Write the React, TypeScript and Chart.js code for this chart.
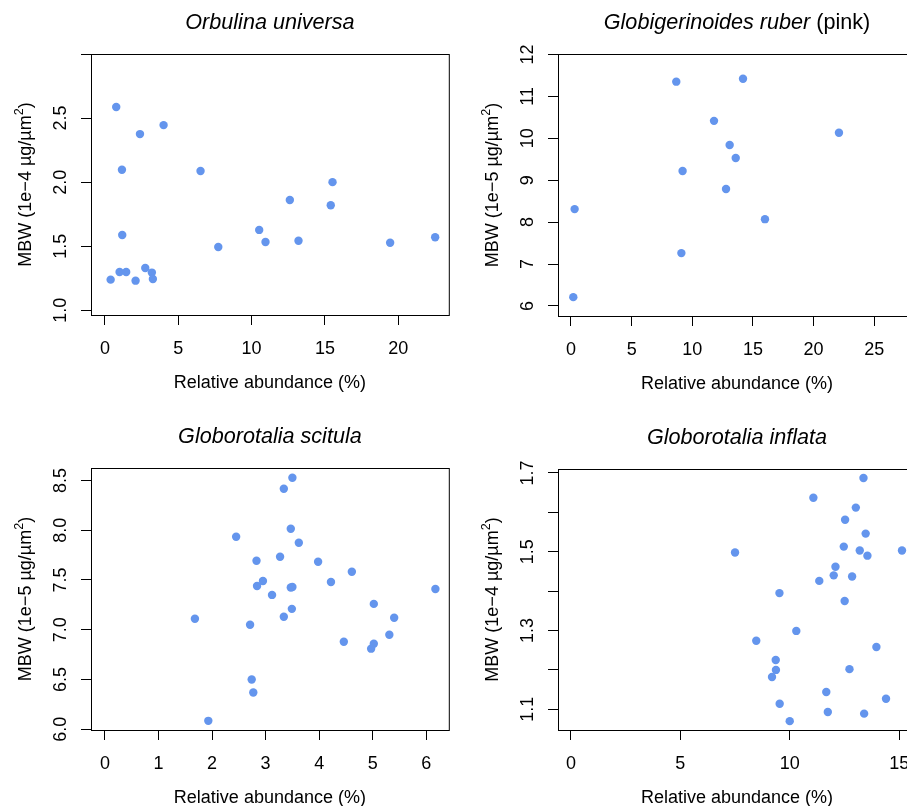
import React, { useEffect, useRef } from 'react';
import { Chart, registerables } from 'chart.js';

Chart.register(...registerables);

const FONT = "'Liberation Sans', Arial, Helvetica, sans-serif";
const POINT_COLOR = '#6495ED';

// Orbulina universa
const orbulinaAbundance = [0.77, 4.0, 2.39, 1.16, 6.52, 15.52, 12.61, 15.4, 1.18, 10.52, 10.95, 13.2, 7.73, 19.45, 22.52, 1.0, 1.45, 2.75, 3.2, 3.27, 0.39, 2.09];
const orbulinaMbw = [2.586, 2.445, 2.375, 2.097, 2.087, 2.0, 1.86, 1.82, 1.587, 1.627, 1.533, 1.543, 1.494, 1.527, 1.57, 1.299, 1.299, 1.33, 1.294, 1.244, 1.239, 1.231];
const orbulinaXTicks = ['0', '5', '10', '15', '20'];
const orbulinaYTicks = ['1.0', '1.5', '2.0', '2.5'];

// Globigerinoides ruber (pink)
const ruberAbundance = [8.68, 14.18, 11.79, 22.09, 13.08, 13.58, 9.2, 12.78, 0.3, 15.99, 9.1, 0.19];
const ruberMbw = [11.35, 11.42, 10.415, 10.13, 9.84, 9.53, 9.22, 8.79, 8.31, 8.07, 7.26, 6.21];
const ruberXTicks = ['0', '5', '10', '15', '20', '25'];
const ruberYTicks = ['6', '7', '8', '9', '10', '11', '12'];

// Globorotalia scitula
const scitulaAbundance = [3.5, 3.34, 3.47, 2.45, 3.62, 3.27, 2.83, 3.98, 4.61, 2.95, 2.84, 4.22, 3.47, 3.5, 6.17, 3.12, 5.02, 3.49, 3.34, 5.4, 1.68, 2.71, 5.31, 4.46, 5.02, 4.97, 2.74, 2.77, 1.93];
const scitulaMbw = [8.527, 8.417, 8.014, 7.934, 7.874, 7.733, 7.693, 7.683, 7.582, 7.49, 7.44, 7.48, 7.424, 7.43, 7.41, 7.35, 7.26, 7.21, 7.13, 7.12, 7.11, 7.05, 6.95, 6.88, 6.86, 6.81, 6.5, 6.37, 6.085];
const scitulaXTicks = ['0', '1', '2', '3', '4', '5', '6'];
const scitulaYTicks = ['6.0', '6.5', '7.0', '7.5', '8.0', '8.5'];

// Globorotalia inflata
const inflataAbundance = [13.37, 11.08, 13.02, 12.53, 13.47, 7.5, 12.47, 13.2, 13.55, 15.13, 12.09, 12.01, 12.85, 11.35, 9.53, 12.51, 10.3, 8.47, 13.96, 9.36, 9.37, 12.73, 9.19, 11.67, 14.4, 9.54, 11.74, 13.4, 10.0];
const inflataMbw = [1.687, 1.637, 1.612, 1.581, 1.546, 1.498, 1.513, 1.503, 1.49, 1.503, 1.462, 1.44, 1.437, 1.426, 1.395, 1.375, 1.299, 1.274, 1.258, 1.225, 1.2, 1.202, 1.182, 1.144, 1.127, 1.114, 1.093, 1.089, 1.07];
const inflataXTicks = ['0', '5', '10', '15'];
const inflataYTicks = ['1.1', '', '1.3', '', '1.5', '', '1.7'];

const xAxisTitle = 'Relative abundance (%)';
// y title pieces: main text, superscript, closing
const yAxisTitle4 = ['MBW (1e\u22124 \u00b5g/\u00b5m', '2', ')'];
const yAxisTitle5 = ['MBW (1e\u22125 \u00b5g/\u00b5m', '2', ')'];

type PanelDef = {
  key: string;
  titleItalic: string;
  titlePlain: string;
  yTitle: string[];
  xs: number[];
  ys: number[];
  xTicks: string[];
  yTicks: string[];
  xMin: number; xMax: number; yMin: number; yMax: number;
  xStep: number; yStep: number;
  box: { left: number; top: number; width: number; height: number };
  area: { left: number; top: number; right: number; bottom: number };
};

const panels: PanelDef[] = [
  {
    key: 'orbulina', titleItalic: 'Orbulina universa', titlePlain: '', yTitle: yAxisTitle4,
    xs: orbulinaAbundance, ys: orbulinaMbw, xTicks: orbulinaXTicks, yTicks: orbulinaYTicks,
    xMin: -0.95, xMax: 23.45, yMin: 0.963, yMax: 3.0, xStep: 5, yStep: 0.5,
    box: { left: 0, top: 0, width: 453, height: 403 },
    area: { left: 91, top: 54, right: 449, bottom: 315 },
  },
  {
    key: 'ruber', titleItalic: 'Globigerinoides ruber', titlePlain: ' (pink)', yTitle: yAxisTitle5,
    xs: ruberAbundance, ys: ruberMbw, xTicks: ruberXTicks, yTicks: ruberYTicks,
    xMin: -1.07, xMax: 28.44, yMin: 5.76, yMax: 12.01, xStep: 5, yStep: 1,
    box: { left: 453, top: 0, width: 475, height: 403 },
    area: { left: 105, top: 54, right: 463, bottom: 316 },
  },
  {
    key: 'scitula', titleItalic: 'Globorotalia scitula', titlePlain: '', yTitle: yAxisTitle5,
    xs: scitulaAbundance, ys: scitulaMbw, xTicks: scitulaXTicks, yTicks: scitulaYTicks,
    xMin: -0.26, xMax: 6.42, yMin: 5.993, yMax: 8.625, xStep: 1, yStep: 0.5,
    box: { left: 0, top: 403, width: 453, height: 403 },
    area: { left: 91, top: 65, right: 449, bottom: 327 },
  },
  {
    key: 'inflata', titleItalic: 'Globorotalia inflata', titlePlain: '', yTitle: yAxisTitle4,
    xs: inflataAbundance, ys: inflataMbw, xTicks: inflataXTicks, yTicks: inflataYTicks,
    xMin: -0.59, xMax: 15.77, yMin: 1.0475, yMax: 1.71, xStep: 5, yStep: 0.1,
    box: { left: 453, top: 403, width: 475, height: 403 },
    area: { left: 105, top: 66, right: 463, bottom: 327 },
  },
];

function makeDecor(p: PanelDef) {
  return {
    id: 'decor_' + p.key,
    afterDraw(chart: any) {
      const ctx: CanvasRenderingContext2D = chart.ctx;
      const a = chart.chartArea;
      ctx.save();
      // box
      ctx.strokeStyle = '#000';
      ctx.lineWidth = 1;
      ctx.strokeRect(a.left + 0.5, a.top + 0.5, a.right - a.left, a.bottom - a.top);
      ctx.fillStyle = '#000';
      // title
      const cx = (a.left + a.right) / 2;
      const titleFontIt = `italic 21.6px ${FONT}`;
      const titleFont = `21.6px ${FONT}`;
      ctx.font = titleFontIt;
      const w1 = ctx.measureText(p.titleItalic).width;
      ctx.font = titleFont;
      const w2 = p.titlePlain ? ctx.measureText(p.titlePlain).width : 0;
      const sx = cx - (w1 + w2) / 2;
      ctx.textAlign = 'left';
      ctx.textBaseline = 'alphabetic';
      ctx.font = titleFontIt;
      ctx.fillText(p.titleItalic, sx, a.top - 25);
      if (p.titlePlain) {
        ctx.font = titleFont;
        ctx.fillText(p.titlePlain, sx + w1, a.top - 25);
      }
      // x axis title
      ctx.font = `18px ${FONT}`;
      ctx.textAlign = 'center';
      ctx.fillText(xAxisTitle, cx, a.bottom + 73);
      // y tick labels (rotated, as in R)
      const ys = chart.scales.y;
      ys.ticks.forEach((t: any, i: number) => {
        const label = p.yTicks[i] ?? '';
        if (!label) return;
        const py = ys.getPixelForValue(t.value);
        ctx.save();
        ctx.translate(a.left - 25, py);
        ctx.rotate(-Math.PI / 2);
        ctx.textAlign = 'center';
        ctx.fillText(label, 0, 0);
        ctx.restore();
      });
      // y axis title with superscript
      const [mainT, supT, closeT] = p.yTitle;
      const mainFont = `18px ${FONT}`;
      const supFont = `12.6px ${FONT}`;
      ctx.font = mainFont;
      const wm = ctx.measureText(mainT).width;
      const wc = ctx.measureText(closeT).width;
      ctx.font = supFont;
      const ws = ctx.measureText(supT).width;
      const total = wm + ws + wc;
      ctx.save();
      ctx.translate(a.left - 60.5, (a.top + a.bottom) / 2);
      ctx.rotate(-Math.PI / 2);
      ctx.textAlign = 'left';
      let px = -total / 2;
      ctx.font = mainFont;
      ctx.fillText(mainT, px, 0);
      px += wm;
      ctx.font = supFont;
      ctx.fillText(supT, px, -7.5);
      px += ws;
      ctx.font = mainFont;
      ctx.fillText(closeT, px, 0);
      ctx.restore();
      ctx.restore();
    },
  };
}

function PanelChart({ p }: { p: PanelDef }) {
  const ref = useRef<HTMLCanvasElement | null>(null);
  useEffect(() => {
    if (!ref.current) return;
    const data = p.xs.map((x, i) => ({ x, y: p.ys[i] }));
    const xAxisHeight = p.box.height - p.area.bottom;
    const chart = new Chart(ref.current, {
      type: 'scatter',
      data: {
        datasets: [
          {
            data,
            backgroundColor: POINT_COLOR,
            borderWidth: 0,
            pointRadius: 4.2,
            pointHoverRadius: 4.2,
          },
        ],
      },
      options: {
        animation: false,
        responsive: false,
        maintainAspectRatio: false,
        devicePixelRatio: 1,
        events: [],
        layout: {
          padding: {
            left: p.area.left,
            top: p.area.top,
            right: p.box.width - p.area.right,
            bottom: 0,
          },
        },
        plugins: { legend: { display: false }, tooltip: { enabled: false }, title: { display: false } },
        scales: {
          x: {
            type: 'linear',
            min: p.xMin,
            max: p.xMax,
            afterFit: (s: any) => { s.height = xAxisHeight; s.paddingLeft = 0; s.paddingRight = 0; },
            grid: { display: true, drawOnChartArea: false, drawTicks: true, tickLength: 10, color: '#000', lineWidth: 1 },
            border: { display: true, color: '#000', width: 1 },
            ticks: {
              stepSize: p.xStep,
              includeBounds: false,
              autoSkip: false,
              maxRotation: 0,
              minRotation: 0,
              padding: 13,
              color: '#000',
              font: { family: FONT, size: 18 },
              callback: (_v: any, i: number) => p.xTicks[i] ?? '',
            },
          },
          y: {
            type: 'linear',
            min: p.yMin,
            max: p.yMax,
            afterFit: (s: any) => { s.width = 0; s.paddingTop = 0; s.paddingBottom = 0; },
            grid: { display: true, drawOnChartArea: false, drawTicks: true, tickLength: 10, color: '#000', lineWidth: 1 },
            border: { display: true, color: '#000', width: 1 },
            ticks: {
              stepSize: p.yStep,
              includeBounds: false,
              autoSkip: false,
              display: false,
              callback: (_v: any, i: number) => p.yTicks[i] ?? '',
            },
          },
        },
      },
      plugins: [makeDecor(p)],
    } as any);
    return () => chart.destroy();
  }, [p]);
  return (
    <canvas
      ref={ref}
      width={p.box.width}
      height={p.box.height}
      style={{ position: 'absolute', left: p.box.left, top: p.box.top, width: p.box.width, height: p.box.height }}
    />
  );
}

export default function App() {
  return (
    <div style={{ position: 'fixed', left: 0, top: 0, width: 907, height: 806, overflow: 'hidden', background: '#fff' }}>
      {panels.map((p) => (
        <PanelChart key={p.key} p={p} />
      ))}
    </div>
  );
}
